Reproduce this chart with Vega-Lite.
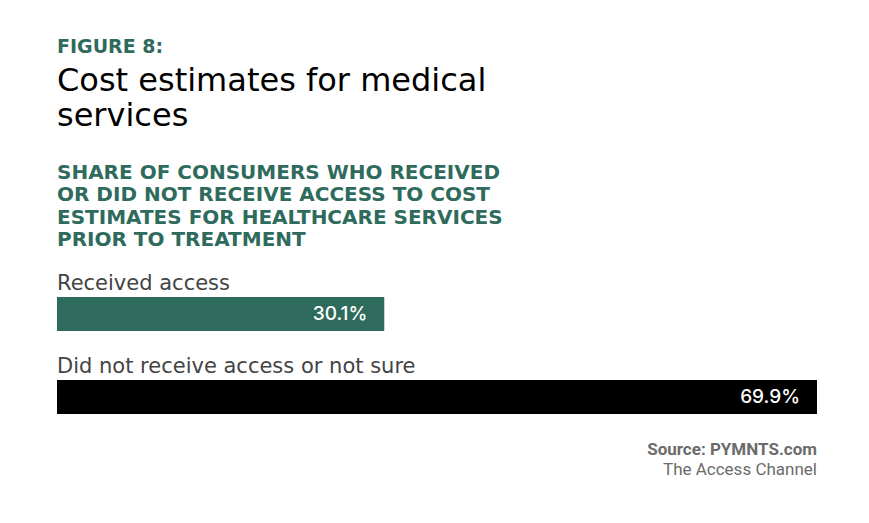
{
  "$schema": "https://vega.github.io/schema/vega-lite/v6.json",
  "background": "white",
  "padding": {"left": 57, "top": 37, "right": 52, "bottom": 40},
  "title": {
    "text": "FIGURE 8:",
    "anchor": "start",
    "font": "DejaVu Sans",
    "fontSize": 19,
    "fontWeight": "bold",
    "color": "#2f6b5d",
    "offset": 8
  },
  "vconcat": [
    {
      "title": {
        "text": "Source: PYMNTS.com",
        "subtitle": "The Access Channel",
        "orient": "bottom",
        "anchor": "end",
        "font": "Roboto",
        "fontSize": 17,
        "fontWeight": "bold",
        "color": "#6b6b6b",
        "subtitleFont": "Roboto",
        "subtitleFontSize": 17,
        "subtitleFontWeight": "normal",
        "subtitleColor": "#6b6b6b",
        "subtitlePadding": 3,
        "offset": 3
      },
      "vconcat": [
        {
          "title": {
            "text": ["Cost estimates for medical", "services"],
            "subtitle": ["SHARE OF CONSUMERS WHO RECEIVED", "OR DID NOT RECEIVE ACCESS TO COST", "ESTIMATES FOR HEALTHCARE SERVICES", "PRIOR TO TREATMENT"],
            "anchor": "start",
            "font": "DejaVu Sans",
            "fontSize": 32,
            "fontWeight": "normal",
            "lineHeight": 35,
            "color": "#000000",
            "subtitleFont": "DejaVu Sans",
            "subtitleFontSize": 20,
            "subtitleFontWeight": "bold",
            "subtitleLineHeight": 22.5,
            "subtitleColor": "#2f6b5d",
            "subtitlePadding": 30,
            "offset": 21
          },
          "width": 760,
          "height": {"step": 83},
          "data": {
            "values": [
              {"category": "Received access", "value": 30.1, "label": "30.1%"},
              {"category": "Did not receive access or not sure", "value": 69.9, "label": "69.9%"}
            ]
          },
          "encoding": {
            "y": {
              "field": "category",
              "type": "nominal",
              "sort": null,
              "axis": null,
              "scale": {"paddingInner": 0.59, "paddingOuter": 0.3}
            }
          },
          "layer": [
            {
              "mark": {"type": "bar"},
              "encoding": {
                "x": {
                  "field": "value",
                  "type": "quantitative",
                  "axis": null,
                  "scale": {"domain": [0, 69.9], "nice": false}
                },
                "color": {
                  "field": "category",
                  "type": "nominal",
                  "legend": null,
                  "scale": {
                    "domain": ["Received access", "Did not receive access or not sure"],
                    "range": ["#2f6b5d", "#000000"]
                  }
                }
              }
            },
            {
              "mark": {
                "type": "text",
                "align": "right",
                "baseline": "middle",
                "dx": -17,
                "font": "Inter",
                "fontSize": 19,
                "fontWeight": 500,
                "color": "#ffffff"
              },
              "encoding": {
                "x": {"field": "value", "type": "quantitative"},
                "text": {"field": "label"}
              }
            },
            {
              "mark": {
                "type": "text",
                "align": "left",
                "baseline": "alphabetic",
                "dy": -24,
                "font": "DejaVu Sans",
                "fontSize": 21,
                "fontWeight": "normal",
                "color": "#444444"
              },
              "encoding": {
                "x": {"datum": 0, "type": "quantitative"},
                "text": {"field": "category"}
              }
            }
          ]
        }
      ]
    }
  ],
  "config": {
    "view": {"stroke": null},
    "concat": {"spacing": 0}
  }
}
